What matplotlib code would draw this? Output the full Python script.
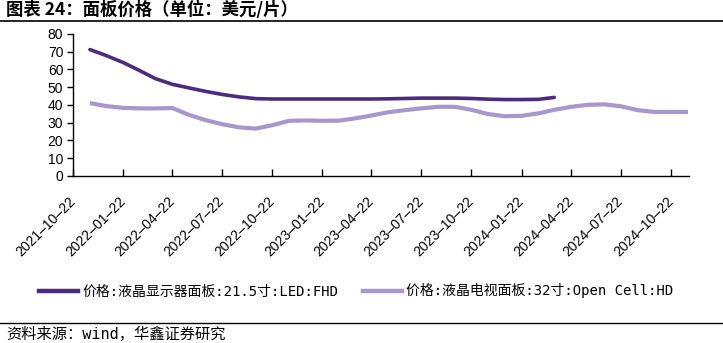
import pandas as pd
import matplotlib
matplotlib.use('Agg')
import matplotlib.pyplot as plt
from matplotlib.lines import Line2D

plt.rcParams['font.family'] = ['Liberation Sans', 'Noto Sans CJK SC', 'DejaVu Sans']
cjk = ['DejaVu Sans Mono', 'Noto Sans CJK SC']

# monthly panel prices (USD per piece)
months = pd.date_range('2021-11-22', periods=37, freq=pd.DateOffset(months=1))
monitor_215 = [71.2, 67.8, 63.9, 59.2, 54.8, 51.6, 49.6, 47.6, 45.9, 44.5,
               43.5, 43.3, 43.3, 43.3, 43.3, 43.3, 43.3, 43.3, 43.4, 43.6,
               43.8, 43.8, 43.8, 43.6, 43.2, 43.0, 43.0, 43.1, 44.2]
tv_32 = [41.0, 39.3, 38.3, 38.0, 38.0, 38.2, 34.4, 31.4, 29.1, 27.3,
         26.6, 28.5, 31.0, 31.2, 31.0, 31.1, 32.3, 34.0, 35.8, 37.0,
         38.0, 38.9, 38.9, 37.2, 34.8, 33.6, 33.8, 35.2, 37.2, 38.9,
         40.0, 40.3, 39.2, 37.0, 36.0, 36.0, 36.0]
labels = ['价格:液晶显示器面板:21.5寸:LED:FHD', '价格:液晶电视面板:32寸:Open Cell:HD']
tick_dates = ['2021-10-22', '2022-01-22', '2022-04-22', '2022-07-22', '2022-10-22',
              '2023-01-22', '2023-04-22', '2023-07-22', '2023-10-22', '2024-01-22',
              '2024-04-22', '2024-07-22', '2024-10-22']

dark = '#4a2b80'
light = '#a797cc'

fig = plt.figure(figsize=(7.23, 3.43), dpi=100)
ax = fig.add_axes([0.101, 0.4877, 0.852, 0.4132])

ax.plot(months[:len(monitor_215)], monitor_215, color=dark, lw=2.6,
        solid_capstyle='round', solid_joinstyle='round')
ax.plot(months[:len(tv_32)], tv_32, color=light, lw=3.0,
        solid_capstyle='butt', solid_joinstyle='round')

ticks = pd.to_datetime(tick_dates)
ax.set_xlim(ticks[0], pd.Timestamp('2024-11-24'))
ax.set_ylim(0, 80)
ax.set_yticks(range(0, 81, 10))
ax.set_xticks(ticks)
ax.set_xticklabels([t.strftime('%Y–%m–%d') for t in ticks], rotation=45,
                   ha='right', va='center', rotation_mode='anchor')

for s in ['top', 'right']:
    ax.spines[s].set_visible(False)
for s in ['left', 'bottom']:
    ax.spines[s].set_linewidth(1.0)
    ax.spines[s].set_color('black')
ax.tick_params(axis='y', direction='out', length=4, width=1, pad=3, labelsize=10)
ax.tick_params(axis='x', direction='in', length=5, width=1, pad=17, labelsize=10)

# legend
fig.legend([Line2D([], [], color=dark, lw=3.2), Line2D([], [], color=light, lw=3.2)],
           labels, loc='center', bbox_to_anchor=(0.493, 0.152), ncol=2,
           frameon=False, handlelength=2.8, handletextpad=0.3,
           columnspacing=1.8, prop={'family': cjk, 'size': 10})

# title, rules and source
fig.text(0.008, 0.971, '图表 24：面板价格（单位：美元/片）', ha='left', va='center',
         fontsize=12.5, fontweight='bold', family=['Noto Sans CJK SC'])
fig.add_artist(Line2D([0, 1], [0.9388, 0.9388], color='black', lw=1.2))
fig.add_artist(Line2D([0, 1], [0.0595, 0.0595], color='black', lw=1.0))
fig.text(0.009, 0.024, '资料来源：wind，华鑫证券研究', ha='left', va='center',
         fontsize=11, family=cjk)

fig.savefig('out.png', dpi=100, facecolor='white')
